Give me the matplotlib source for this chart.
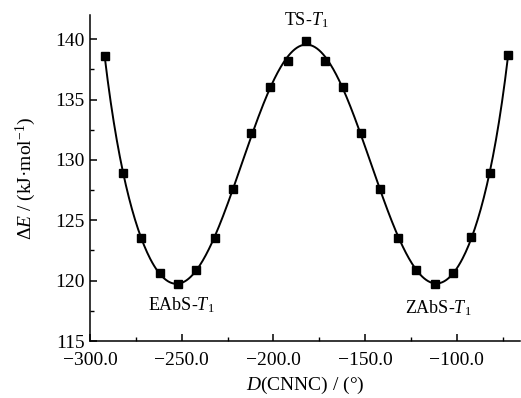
import numpy as np
import matplotlib
matplotlib.use('Agg')
import matplotlib.pyplot as plt
from matplotlib.ticker import MultipleLocator

plt.rcParams['font.family'] = 'Liberation Serif'
plt.rcParams['mathtext.fontset'] = 'custom'
plt.rcParams['mathtext.rm'] = 'Liberation Serif'
plt.rcParams['mathtext.it'] = 'Liberation Serif:italic'

# dihedral angle D(CNNC) in degrees and relative energy in kJ/mol
angle = [-292, -282, -272, -262, -252, -242, -232, -222, -212, -202, -192, -182,
         -172, -162, -152, -142, -132, -122, -112, -102, -92, -82, -72]
energy = [138.6, 128.9, 123.55, 120.65, 119.7, 120.85, 123.5, 127.6, 132.2, 136.0, 138.2, 139.86,
          138.2, 136.0, 132.2, 127.6, 123.55, 120.9, 119.7, 120.65, 123.6, 128.9, 138.65]

labels = ['TS-$T_1$', 'EAbS-$T_1$', 'ZAbS-$T_1$']
label_xy = [(-182, 141.55), (-250, 118.0), (-110, 117.7)]

x = np.array(angle, dtype=float)
y = np.array(energy)

# smooth fitted curve through the points
u = (x + 182) / 110.0
coef = np.polyfit(u, y, 8)
xs = np.linspace(x.min(), x.max(), 400)
ys = np.polyval(coef, (xs + 182) / 110.0)

fig = plt.figure(figsize=(5.21, 3.98), dpi=100)
ax = fig.add_axes([90/521, 1-341/398, 430/521, (341-15)/398])

ax.plot(xs, ys, color='black', lw=1.4)
ax.plot(x, y, 's', color='black', ms=6.2)

for txt, (lx, ly) in zip(labels, label_xy):
    ax.text(lx, ly, txt, ha='center', va='center', fontsize=13)

ax.set_xlim(-300, -65.5)
ax.set_ylim(115, 142)
ax.xaxis.set_major_locator(MultipleLocator(50))
ax.xaxis.set_minor_locator(MultipleLocator(25))
ax.yaxis.set_major_locator(MultipleLocator(5))
ax.yaxis.set_minor_locator(MultipleLocator(2.5))
ax.xaxis.set_major_formatter(plt.FuncFormatter(lambda v, p: ('%.1f' % v).replace('-', '\u2212')))

ax.spines['top'].set_visible(False)
ax.spines['right'].set_visible(False)
for s in ['left', 'bottom']:
    ax.spines[s].set_linewidth(1.1)
ax.tick_params(which='major', direction='in', length=5, width=1.1, labelsize=14)
ax.tick_params(axis='x', which='major', pad=8)
ax.tick_params(axis='y', which='major', pad=4)
ax.tick_params(which='minor', direction='in', length=3, width=1.0)

ax.set_xlabel('$D$(CNNC) / (°)', fontsize=14, labelpad=4)
ax.set_ylabel('Δ$E$ / (kJ·mol$^{-1}$)', fontsize=14, labelpad=12)

fig.savefig('out.png', dpi=100)
